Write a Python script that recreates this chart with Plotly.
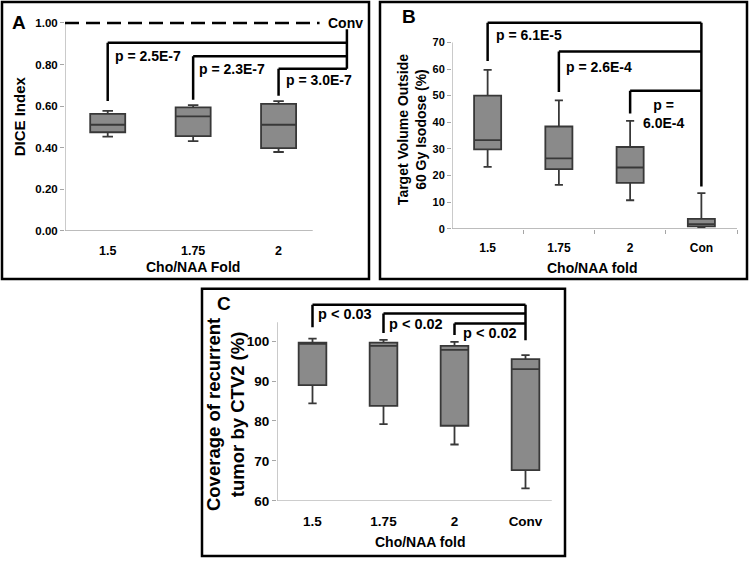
import plotly.graph_objects as go

# ---------------- data ----------------
a_cats = ["1.5", "1.75", "2"]
a_lower = [0.453, 0.431, 0.379]
a_q1 = [0.474, 0.455, 0.398]
a_med = [0.51, 0.55, 0.51]
a_q3 = [0.562, 0.594, 0.611]
a_upper = [0.577, 0.605, 0.624]
a_conv = 1.0
a_pvals = ["p = 2.5E-7", "p = 2.3E-7", "p = 3.0E-7"]
a_yticks = [0.0, 0.2, 0.4, 0.6, 0.8, 1.0]
a_yticktext = ["0.00", "0.20", "0.40", "0.60", "0.80", "1.00"]

b_cats = ["1.5", "1.75", "2", "Con"]
b_lower = [23.2, 16.5, 10.7, 0.5]
b_q1 = [29.8, 22.4, 17.2, 0.9]
b_med = [33.3, 26.4, 23.0, 1.7]
b_q3 = [50.0, 38.4, 30.7, 3.7]
b_upper = [59.7, 48.2, 40.5, 13.4]
b_pvals = ["p = 6.1E-5", "p = 2.6E-4", "p =<br>6.0E-4"]
b_yticks = [0, 10, 20, 30, 40, 50, 60, 70]

c_cats = ["1.5", "1.75", "2", "Conv"]
c_lower = [84.4, 79.2, 74.1, 63.1]
c_q1 = [89.0, 83.8, 78.8, 67.7]
c_med = [99.3, 98.8, 97.8, 93.0]
c_q3 = [99.6, 99.6, 98.8, 95.5]
c_upper = [100.6, 100.3, 99.8, 96.5]
c_pvals = ["p < 0.03", "p < 0.02", "p < 0.02"]
c_yticks = [60, 70, 80, 90, 100]

# ---------------- style ----------------
FONT = "Liberation Sans, Arial, sans-serif"
BOXFILL = "#8a8a8a"
BOXLINE = "#383838"
AXCOL = "#a6a6a6"
W, H = 750, 566


def px(x):
    return x / W


def py(y):
    return 1 - y / H


fig = go.Figure()


def add_boxes(xa, ya, cats, lo, q1, med, q3, hi, width):
    fig.add_trace(go.Box(
        x=list(range(len(cats))), lowerfence=lo, q1=q1, median=med, q3=q3,
        upperfence=hi, width=width, whiskerwidth=0.3,
        fillcolor=BOXFILL, line=dict(color=BOXLINE, width=1.8),
        xaxis=xa, yaxis=ya, showlegend=False, hoverinfo="skip"))


add_boxes("x", "y", a_cats, a_lower, a_q1, a_med, a_q3, a_upper, 0.41)
add_boxes("x2", "y2", b_cats, b_lower, b_q1, b_med, b_q3, b_upper, 0.38)
add_boxes("x3", "y3", c_cats, c_lower, c_q1, c_med, c_q3, c_upper, 0.39)

shapes = []
annotations = []


def line(xr, yr, x0, y0, x1, y1, color="black", width=2.5, dash=None):
    d = dict(type="line", xref=xr, yref=yr, x0=x0, y0=y0, x1=x1, y1=y1,
             line=dict(color=color, width=width))
    if dash:
        d["line"]["dash"] = dash
    shapes.append(d)


def text(xr, yr, x, y, t, size=14, xanchor="center", yanchor="middle", textangle=0):
    annotations.append(dict(xref=xr, yref=yr, x=x, y=y, text=t, showarrow=False,
                            xanchor=xanchor, yanchor=yanchor, textangle=textangle,
                            font=dict(family=FONT, size=size, color="black", weight="bold")))


# ----- frames -----
for (x0, y0, x1, y1) in [(2, 2, 369, 283), (380, 2, 747, 283), (202, 293, 565, 564)]:
    shapes.append(dict(type="rect", xref="paper", yref="paper",
                       x0=px(x0), y0=py(y0), x1=px(x1), y1=py(y1),
                       line=dict(color="black", width=2.5)))

# ----- panel A -----
line("x", "y", -0.5, 0, -0.5, 1.0, AXCOL, 1.2)
line("x", "y", -0.5, 0, 2.4, 0, AXCOL, 1.2)
line("x", "y", -0.5, a_conv, 2.48, a_conv, "black", 2.5, "14px,7px")
text("x", "y", 2.78, a_conv, "Conv", 14)
xr_a = 2.8
a_tops = [0.905, 0.84, 0.78]
a_legs = [0.625, 0.63, 0.65]
for i in range(3):
    line("x", "y", i, a_legs[i], i, a_tops[i])
    line("x", "y", i, a_tops[i], xr_a, a_tops[i])
line("x", "y", xr_a, 0.97, xr_a, 0.78)
a_pxy = [(0.47, 0.84), (1.46, 0.78), (2.47, 0.725)]
for (x, y), t in zip(a_pxy, a_pvals):
    text("x", "y", x, y, t, 14)
text("paper", "paper", px(19), py(23), "A", 19)
text("paper", "paper", px(19), py(118), "DICE Index", 15, textangle=-90)
text("paper", "paper", px(193), py(271), "Cho/NAA Fold", 14)

# ----- panel B -----
line("x2", "y2", -0.5, 0, -0.5, 70, AXCOL, 1.2)
line("x2", "y2", -0.5, 0, 3.5, 0, AXCOL, 1.2)
xr_b = 3.0
b_tops = [77.4, 66.6, 51.8]
b_legs = [63.0, 51.4, 43.3]
for i in range(3):
    line("x2", "y2", i, b_legs[i], i, b_tops[i])
    line("x2", "y2", i, b_tops[i], xr_b, b_tops[i])
line("x2", "y2", xr_b, 77.4, xr_b, 15.9)
text("paper", "paper", px(529), py(36), b_pvals[0], 14)
text("paper", "paper", px(599), py(68), b_pvals[1], 14)
text("paper", "paper", px(663), py(116), b_pvals[2], 14)
text("paper", "paper", px(409), py(17), "B", 19)
text("paper", "paper", px(412), py(132), "Target Volume Outside<br>60 Gy Isodose (%)", 14, textangle=-90)
text("paper", "paper", px(592), py(272), "Cho/NAA fold", 14)

# ----- panel C -----
line("x3", "y3", -0.5, 60, -0.5, 104.7, AXCOL, 1.2)
line("x3", "y3", -0.5, 60, 3.37, 60, AXCOL, 1.2)
xr_c = 3.0
c_tops = [109.1, 106.9, 104.4]
c_legs = [103.5, 102.0, 101.5]
for i in range(3):
    line("x3", "y3", i, c_legs[i], i, c_tops[i])
    line("x3", "y3", i, c_tops[i], xr_c, c_tops[i])
line("x3", "y3", xr_c, 109.1, xr_c, 100.2)
text("paper", "paper", px(345), py(319), c_pvals[0], 14.5)
text("paper", "paper", px(416), py(329), c_pvals[1], 14.5)
text("paper", "paper", px(490), py(338), c_pvals[2], 14.5)
text("paper", "paper", px(224), py(308), "C", 19)
text("paper", "paper", px(225), py(421), "Coverage of recurrent<br>tumor by CTV2 (%)", 18.5, textangle=-90)
text("paper", "paper", px(420), py(550), "Cho/NAA fold", 14)


def tf(size):
    return dict(family=FONT, size=size, color="black", weight="bold")


def xaxis(dom, rng, cats, size, minor=None):
    d = dict(domain=dom, range=rng, tickvals=list(range(len(cats))), ticktext=cats,
             showgrid=False, zeroline=False, showline=False, ticks="outside",
             ticklen=8, tickcolor="rgba(0,0,0,0)", tickfont=tf(size), fixedrange=True)
    if minor:
        d["minor"] = minor
    return d


def yaxis(dom, rng, tv, tt, anchor, size):
    return dict(domain=dom, range=rng, tickvals=tv, ticktext=tt if tt else [str(v) for v in tv],
                showgrid=False, zeroline=False, showline=False, ticks="outside",
                ticklen=4, tickcolor=AXCOL, tickwidth=1.2, tickfont=tf(size),
                anchor=anchor, fixedrange=True)


fig.update_layout(
    width=W, height=H, autosize=False,
    margin=dict(l=0, r=0, t=0, b=0),
    paper_bgcolor="white", plot_bgcolor="white",
    xaxis=dict(**xaxis([px(65), px(364)], [-0.5, 3.0], a_cats, 12.5), anchor="y"),
    yaxis=yaxis([py(234), py(12.8)], [0, 1.05], a_yticks, a_yticktext, "x", 11.5),
    xaxis2=dict(**xaxis([px(452), px(737)], [-0.5, 3.5], b_cats, 12,
                        minor=dict(tickvals=[0.5, 1.5, 2.5, 3.5], ticks="outside",
                                   ticklen=4, tickcolor=AXCOL, tickwidth=1.2, showgrid=False)),
                anchor="y2"),
    yaxis2=yaxis([py(232), py(16)], [0, 80], b_yticks, None, "x2", 11),
    xaxis3=dict(**xaxis([px(277), px(561)], [-0.5, 3.5], c_cats, 13.5), anchor="y3"),
    yaxis3=yaxis([py(508), py(305.5)], [60, 110], c_yticks, None, "x3", 13.5),
    shapes=shapes, annotations=annotations,
)

fig.write_html("out.html", config={"displayModeBar": False},
               post_script="document.body.style.margin='0';")
